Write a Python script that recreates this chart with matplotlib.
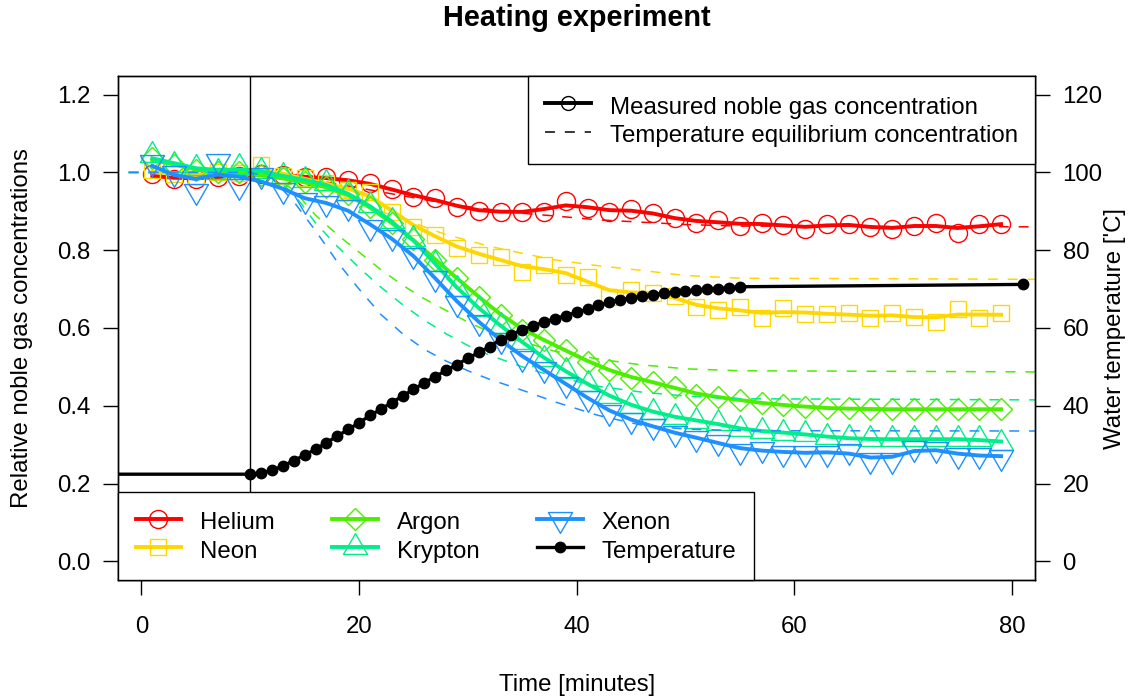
import numpy as np
import matplotlib
matplotlib.use('Agg')
import matplotlib.pyplot as plt
from matplotlib.path import Path
from matplotlib.lines import Line2D

plt.rcParams['font.family'] = ['Liberation Sans', 'DejaVu Sans']
FS = 17.3

# measured concentrations (every 2 minutes)
time_meas = [1, 3, 5, 7, 9, 11, 13, 15, 17, 19, 21, 23, 25, 27, 29, 31, 33, 35, 37, 39,
             41, 43, 45, 47, 49, 51, 53, 55, 57, 59, 61, 63, 65, 67, 69, 71, 73, 75, 77, 79]
helium = [0.995, 0.983, 0.984, 0.988, 0.992, 0.997, 0.994, 0.987, 0.987, 0.980,
          0.972, 0.958, 0.937, 0.933, 0.912, 0.900, 0.899, 0.898, 0.899, 0.927,
          0.908, 0.899, 0.906, 0.895, 0.882, 0.871, 0.877, 0.862, 0.871, 0.865,
          0.854, 0.867, 0.867, 0.859, 0.854, 0.862, 0.871, 0.845, 0.867, 0.867]
neon = [1.005, 0.995, 0.990, 1.000, 0.998, 1.018, 0.992, 0.985, 0.972, 0.955,
        0.950, 0.899, 0.860, 0.839, 0.805, 0.788, 0.783, 0.745, 0.762, 0.736,
        0.730, 0.680, 0.698, 0.690, 0.682, 0.655, 0.646, 0.655, 0.625, 0.651,
        0.636, 0.636, 0.638, 0.625, 0.638, 0.629, 0.616, 0.648, 0.626, 0.638]
argon = [1.038, 1.020, 1.005, 1.000, 1.000, 0.993, 0.985, 0.975, 0.963, 0.945,
         0.912, 0.870, 0.828, 0.775, 0.728, 0.680, 0.633, 0.595, 0.569, 0.543,
         0.513, 0.492, 0.471, 0.462, 0.447, 0.428, 0.423, 0.415, 0.406, 0.402,
         0.398, 0.393, 0.393, 0.391, 0.391, 0.391, 0.391, 0.391, 0.391, 0.391]
krypton = [1.045, 1.019, 1.012, 1.000, 1.013, 1.004, 0.990, 0.980, 0.972, 0.946,
           0.916, 0.875, 0.830, 0.765, 0.700, 0.650, 0.605, 0.565, 0.520, 0.490,
           0.455, 0.425, 0.400, 0.385, 0.370, 0.362, 0.355, 0.339, 0.335, 0.331,
           0.327, 0.320, 0.316, 0.314, 0.314, 0.314, 0.314, 0.314, 0.314, 0.305]
xenon = [1.026, 0.998, 0.952, 1.030, 0.966, 0.993, 0.955, 0.929, 0.922, 0.912,
         0.860, 0.835, 0.788, 0.729, 0.665, 0.615, 0.569, 0.524, 0.494, 0.455,
         0.421, 0.384, 0.363, 0.348, 0.329, 0.317, 0.308, 0.284, 0.288, 0.279,
         0.279, 0.279, 0.284, 0.261, 0.261, 0.292, 0.289, 0.273, 0.273, 0.269]

# temperature equilibrium concentrations
time_eq = [-3, 10, 12, 14, 16, 18, 20, 22, 24, 26, 28, 30, 32, 35, 38, 42, 46, 50, 55, 83]
eq_helium = [1.0, 1.0, 0.998, 0.990, 0.980, 0.970, 0.960, 0.950, 0.940, 0.930,
             0.920, 0.912, 0.905, 0.895, 0.888, 0.878, 0.872, 0.866, 0.862, 0.860]
eq_neon = [1.0, 1.0, 0.997, 0.985, 0.965, 0.945, 0.920, 0.900, 0.880, 0.860,
           0.840, 0.825, 0.810, 0.792, 0.775, 0.760, 0.748, 0.735, 0.728, 0.725]
eq_argon = [1.0, 1.0, 0.990, 0.955, 0.890, 0.840, 0.795, 0.750, 0.710, 0.675,
            0.645, 0.615, 0.590, 0.565, 0.540, 0.520, 0.505, 0.495, 0.490, 0.487]
eq_krypton = [1.0, 1.0, 0.990, 0.945, 0.870, 0.810, 0.755, 0.705, 0.660, 0.620,
              0.585, 0.555, 0.530, 0.500, 0.475, 0.450, 0.435, 0.425, 0.418, 0.415]
eq_xenon = [1.0, 1.0, 0.985, 0.925, 0.850, 0.770, 0.700, 0.635, 0.585, 0.545,
            0.515, 0.490, 0.468, 0.440, 0.410, 0.375, 0.350, 0.340, 0.336, 0.335]

# water temperature
time_temp = [-5] + list(range(10, 56)) + [81]
temp = [22.4,
        22.4, 22.6, 23.4, 24.5, 25.9, 27.3, 28.8, 30.5, 32.2, 33.9,
        35.6, 37.5, 39.1, 40.8, 42.5, 44.2, 45.9, 47.5, 49.1, 50.6,
        52.2, 53.7, 55.2, 57.0, 58.3, 59.5, 60.6, 61.5, 62.4, 63.2,
        64.0, 64.8, 65.8, 66.6, 67.2, 67.7, 68.2, 68.6, 68.9, 69.2,
        69.5, 69.7, 69.9, 70.1, 70.4, 70.6,
        71.2]

gases = ['Helium', 'Neon', 'Argon', 'Krypton', 'Xenon']
colors = ['#FF0000', '#FFD700', '#4CEE00', '#00EE8A', '#1E90FF']

# R-like triangles (point at centroid)
tri_up = Path([(0, 1.555), (1.347, -0.778), (-1.347, -0.778), (0, 1.555)],
              [Path.MOVETO, Path.LINETO, Path.LINETO, Path.CLOSEPOLY])
tri_dn = Path([(0, -1.555), (1.347, 0.778), (-1.347, 0.778), (0, -1.555)],
              [Path.MOVETO, Path.LINETO, Path.LINETO, Path.CLOSEPOLY])
markers = ['o', 's', 'D', tri_up, tri_dn]
msizes = [13, 11.5, 11.5, 20, 20]


def smooth(v):
    v = np.asarray(v, float)
    k = np.array([1.0, 2.0, 1.0])
    return np.convolve(v, k, mode='same') / np.convolve(np.ones_like(v), k, mode='same')


fig = plt.figure(figsize=(11.39, 6.97), dpi=100)
ax = fig.add_axes([0.1039, 0.1679, 0.8048, 0.7231])
ax2 = ax.twinx()

meas = [helium, neon, argon, krypton, xenon]
eqs = [eq_helium, eq_neon, eq_argon, eq_krypton, eq_xenon]
handles = []
for name, c, m, ms, y, e in zip(gases, colors, markers, msizes, meas, eqs):
    ax.plot(time_meas, y, ls='none', marker=m, ms=ms, mfc='none', mec=c, mew=1.0)
    ax.plot(time_meas, smooth(y), color=c, lw=2.8)
    ax.plot(time_eq, e, color=c, lw=1.1, ls=(0, (6.5, 6.5)))
    handles.append(Line2D([], [], color=c, lw=2.8, marker=m, ms=ms, mfc='none',
                          mec=c, mew=1.0, label=name))

ax.axvline(10, color='black', lw=1.0)

ax2.plot(time_temp, temp, color='black', lw=2.4, marker='o', ms=7.5)
handles.append(Line2D([], [], color='black', lw=2.4, marker='o', ms=7.5, label='Temperature'))

ax.set_xlim(-2.12, 82.12)
ax.set_ylim(-0.048, 1.248)
ax2.set_ylim(-4.8, 124.8)
ax.set_xticks([0, 20, 40, 60, 80])
ax.set_yticks([0.0, 0.2, 0.4, 0.6, 0.8, 1.0, 1.2])
ax.set_yticklabels(['0.0', '0.2', '0.4', '0.6', '0.8', '1.0', '1.2'])
ax2.set_yticks([0, 20, 40, 60, 80, 100, 120])

for a in (ax, ax2):
    for s in a.spines.values():
        s.set_linewidth(1.0)
ax.tick_params(axis='x', length=10.8, width=1.0, pad=15, labelsize=FS)
ax.tick_params(axis='y', length=10.8, width=1.0, pad=9, labelsize=FS)
ax2.tick_params(axis='y', length=10.8, width=1.0, pad=9, labelsize=FS)

leg_kw = dict(fontsize=FS, frameon=True, fancybox=False, framealpha=1, edgecolor='black',
              borderaxespad=0, labelspacing=0.12, handlelength=1.9, handleheight=1.2,
              handletextpad=0.78, borderpad=0.72)
top_handles = [Line2D([], [], color='black', lw=2.8, marker='o', ms=10, mfc='none', mew=1.0),
               Line2D([], [], color='black', lw=1.1, ls=(0, (6.5, 6.5)))]
leg1 = ax2.legend(top_handles, ['Measured noble gas concentration',
                                'Temperature equilibrium concentration'],
                  loc='upper right', **leg_kw)
leg1.get_frame().set_linewidth(1.0)
ax2.add_artist(leg1)
leg2 = ax2.legend(handles=handles, loc='lower left', ncol=3, columnspacing=2.4, **leg_kw)
leg2.get_frame().set_linewidth(1.0)

fig.text(0.5063, 0.974, 'Heating experiment', ha='center', va='center',
         fontsize=20.8, fontweight='bold')
fig.text(0.5063, 0.0172, 'Time [minutes]', ha='center', va='center', fontsize=FS)
fig.text(0.0193, 0.5294, 'Relative noble gas concentrations', ha='center', va='center',
         rotation=90, fontsize=FS)
fig.text(0.979, 0.5294, "Water temperature ['C]", ha='center', va='center',
         rotation=90, fontsize=FS)

fig.savefig('out.png', dpi=100)
